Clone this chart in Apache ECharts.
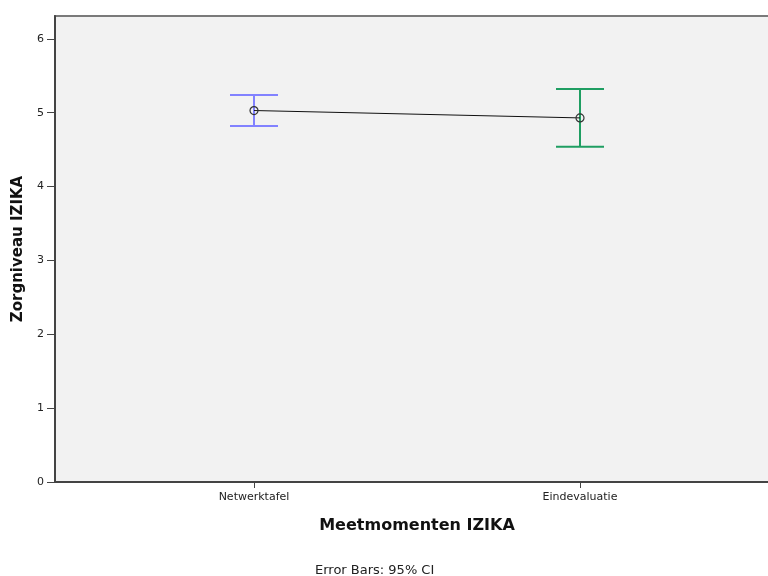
<!DOCTYPE html>
<html>
<head>
<meta charset="utf-8">
<script src="https://cdn.jsdelivr.net/npm/echarts@6/dist/echarts.min.js"></script>
<style>
  html, body { margin: 0; padding: 0; background: #fff; }
  #chart { width: 768px; height: 576px; }
</style>
</head>
<body>
<div id="chart"></div>
<script>
const categories = ['Netwerktafel', 'Eindevaluatie']
const means = [5.03, 4.93]
const ciLower = [4.82, 4.54]
const ciUpper = [5.24, 5.32]
const yTicks = [0, 1, 2, 3, 4, 5, 6]

const barColors = ['#8282ff', '#1f9e62']
const font = 'DejaVu Sans'

const chart = echarts.init(document.getElementById('chart'))

const errData = categories.map((c, i) => [i + 1, ciLower[i], ciUpper[i], i])
const meanData = categories.map((c, i) => [i + 1, means[i]])

chart.setOption({
  animation: false,
  grid: {
    left: 55, top: 16, width: 724, height: 466,
    outerBoundsMode: 'none',
    containLabel: false,
    show: true, backgroundColor: '#f2f2f2', borderColor: '#7a7a7a', borderWidth: 2
  },
  xAxis: {
    type: 'value',
    min: 1 - 199 / 326,
    max: 2 + 199 / 326,
    splitLine: { show: false },
    axisLine: { lineStyle: { color: '#444', width: 2 } },
    axisTick: { show: true, length: 6, customValues: [1, 2], lineStyle: { color: '#444' } },
    axisLabel: {
      customValues: [1, 2],
      formatter: v => categories[Math.round(v) - 1] || '',
      color: '#222', fontFamily: font, fontSize: 11, margin: 10
    },
    name: 'Meetmomenten IZIKA',
    nameLocation: 'middle',
    nameGap: 36,
    nameTextStyle: { color: '#111', fontFamily: font, fontSize: 16, fontWeight: 'bold' }
  },
  yAxis: {
    type: 'value',
    min: 0,
    max: 6.31,
    interval: 1,
    splitLine: { show: false },
    axisLine: { show: true, lineStyle: { color: '#444', width: 2 } },
    axisTick: { show: true, length: 8, lineStyle: { color: '#444' } },
    axisLabel: {
      formatter: v => (yTicks.indexOf(v) >= 0 ? String(v) : ''),
      showMaxLabel: false,
      color: '#222', fontFamily: font, fontSize: 11, margin: 11
    },
    name: 'Zorgniveau IZIKA',
    nameLocation: 'middle',
    nameGap: 28,
    nameTextStyle: { color: '#111', fontFamily: font, fontSize: 15, fontWeight: 'bold' }
  },
  graphic: [{
    type: 'text',
    left: 387 - 72,
    top: 564,
    style: { text: 'Error Bars: 95% CI', fill: '#222', font: '13px ' + font }
  }],
  series: [
    {
      type: 'custom',
      data: errData,
      z: 2,
      renderItem: (params, api) => {
        const x = api.value(0)
        const lo = api.coord([x, api.value(1)])
        const hi = api.coord([x, api.value(2)])
        const color = barColors[api.value(3)]
        const hw = 24
        const style = { stroke: color, lineWidth: 2 }
        return {
          type: 'group',
          children: [
            { type: 'line', shape: { x1: lo[0], y1: lo[1], x2: hi[0], y2: hi[1] }, style },
            { type: 'line', shape: { x1: hi[0] - hw, y1: hi[1], x2: hi[0] + hw, y2: hi[1] }, style },
            { type: 'line', shape: { x1: lo[0] - hw, y1: lo[1], x2: lo[0] + hw, y2: lo[1] }, style }
          ]
        }
      }
    },
    {
      type: 'line',
      data: meanData,
      z: 3,
      symbol: 'circle',
      symbolSize: 8,
      lineStyle: { color: '#111', width: 1 },
      itemStyle: { color: 'rgba(0,0,0,0)', borderColor: '#333', borderWidth: 1.2 }
    }
  ]
})
</script>
</body>
</html>
